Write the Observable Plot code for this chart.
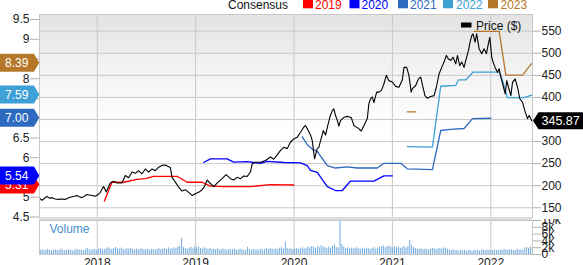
<!DOCTYPE html>
<html><head><meta charset="utf-8">
<script src="https://cdn.jsdelivr.net/npm/d3@7"></script>
<script src="https://cdn.jsdelivr.net/npm/@observablehq/plot@0.6"></script>
<style>
html,body{margin:0;padding:0;background:#fff;}
#chart{position:relative;width:583px;height:265px;overflow:hidden;font-family:"Liberation Sans",Arial,sans-serif;}
#chart svg{display:block;position:absolute;left:0;}
#bg{position:absolute;left:39px;top:14px;width:493px;height:203px;background:linear-gradient(#e3e3e3 0%,#f4f4f4 30%,#ffffff 58%,#ffffff 100%);}
#sep{position:absolute;left:39px;top:217px;width:493px;height:3px;background:#dcdcdc;z-index:5;}
</style></head><body><div id="chart"><div id="bg"></div></div>
<script>
// ---------- data ----------
const years = [2018, 2019, 2020, 2021, 2022];
const epsTicks = [4.5, 5, 5.5, 6, 6.5, 7, 7.5, 8, 8.5, 9, 9.5];
const priceTicks = [150, 200, 250, 300, 350, 400, 450, 500, 550];
const volTicks = [0, 2, 4, 6, 8, 10];
const seriesNames = ["2019", "2020", "2021", "2022", "2023"];
const latestEPS = [5.31, 5.54, 7.00, 7.59, 8.39];
const lastPrice = 345.87;

// price ($), [decimal year, price]
const price = [
[2017.413,172],[2017.437,167],[2017.461,171],[2017.488,176],[2017.511,172],[2017.539,173],[2017.573,170],[2017.603,169],[2017.644,170],[2017.674,169],
[2017.705,172],[2017.725,174],[2017.766,176],[2017.793,178],[2017.817,175],[2017.844,173],[2017.868,176],[2017.895,180],[2017.919,179],[2017.946,178],
[2017.980,176],[2018.010,180],[2018.031,185],[2018.064,198],[2018.092,186],[2018.132,206],[2018.166,210],[2018.200,206],[2018.251,206],[2018.285,223],
[2018.319,218],[2018.353,231],[2018.387,228],[2018.420,234],[2018.455,227],[2018.489,238],[2018.522,231],[2018.557,238],[2018.590,234],[2018.624,242],
[2018.659,246],[2018.692,247],[2018.716,244],[2018.743,241],[2018.760,219],[2018.794,208],[2018.827,197],[2018.862,188],[2018.896,191],[2018.929,185],
[2018.964,178],[2018.997,182],[2019.031,185],[2019.066,191],[2019.089,198],[2019.117,213],[2019.150,205],[2019.184,198],[2019.218,206],[2019.269,216],
[2019.310,225],[2019.354,216],[2019.387,213],[2019.422,219],[2019.455,216],[2019.489,222],[2019.524,221],[2019.557,231],[2019.575,250],[2019.608,253],
[2019.659,253],[2019.710,257],[2019.761,265],[2019.794,260],[2019.829,270],[2019.863,280],[2019.896,287],[2019.931,284],[2019.964,299],[2019.998,306],
[2020.033,310],[2020.066,321],[2020.100,333],[2020.117,336],[2020.140,327],[2020.168,315],[2020.185,302],[2020.209,261],[2020.236,284],[2020.252,287],
[2020.277,308],[2020.297,325],[2020.321,315],[2020.344,337],[2020.364,355],[2020.389,370],[2020.405,374],[2020.422,359],[2020.440,348],[2020.456,335],
[2020.473,348],[2020.507,355],[2020.548,357],[2020.582,354],[2020.609,336],[2020.649,331],[2020.684,324],[2020.718,340],[2020.745,352],[2020.761,386],
[2020.779,397],[2020.796,401],[2020.812,388],[2020.840,412],[2020.863,412],[2020.888,416],[2020.914,431],[2020.938,450],[2020.965,438],[2020.999,435],
[2021.033,425],[2021.067,423],[2021.101,440],[2021.118,468],[2021.145,468],[2021.168,450],[2021.191,412],[2021.203,420],[2021.237,427],[2021.264,442],
[2021.288,446],[2021.311,423],[2021.331,404],[2021.356,398],[2021.389,402],[2021.423,404],[2021.447,423],[2021.474,453],[2021.501,468],[2021.525,480],
[2021.549,495],[2021.569,487],[2021.593,484],[2021.616,491],[2021.644,476],[2021.661,495],[2021.684,472],[2021.705,480],[2021.728,468],[2021.746,484],
[2021.773,506],[2021.789,525],[2021.807,540],[2021.820,544],[2021.840,525],[2021.857,544],[2021.881,510],[2021.908,499],[2021.932,510],[2021.956,499],
[2021.972,518],[2021.990,536],[2022.010,491],[2022.023,480],[2022.044,468],[2022.068,457],[2022.085,465],[2022.102,446],[2022.125,427],[2022.146,408],
[2022.163,438],[2022.180,423],[2022.204,404],[2022.221,434],[2022.247,442],[2022.272,423],[2022.295,397],[2022.323,389],[2022.346,370],[2022.373,352],
[2022.390,359],[2022.414,348],[2022.424,345.87]
];

// consensus EPS estimates, [decimal year, EPS]
const eps2019 = [[2018.071,4.90],[2018.150,5.38],[2018.268,5.38],[2018.404,5.45],[2018.489,5.47],[2018.573,5.53],[2018.811,5.53],[2018.913,5.38],[2019.066,5.38],[2019.150,5.28],[2019.285,5.27],[2019.557,5.27],[2019.761,5.32],[2019.998,5.31]];
const eps2020 = [[2019.082,5.88],[2019.150,5.97],[2019.320,5.97],[2019.387,5.89],[2019.524,5.90],[2019.659,5.86],[2019.727,5.91],[2019.896,5.88],[2020.066,5.87],[2020.134,5.80],[2020.168,5.68],[2020.236,5.63],[2020.338,5.27],[2020.422,5.17],[2020.490,5.17],[2020.575,5.41],[2020.812,5.41],[2020.914,5.54],[2020.999,5.54]];
const eps2021 = [[2020.083,6.53],[2020.134,6.33],[2020.185,6.22],[2020.236,6.16],[2020.338,5.80],[2020.422,5.74],[2020.541,5.77],[2020.643,5.74],[2020.847,5.74],[2020.914,5.86],[2021.084,5.86],[2021.152,5.72],[2021.407,5.70],[2021.491,6.69],[2021.593,6.72],[2021.728,6.74],[2021.814,6.99],[2022.000,7.00]];
const eps2022 = [[2021.152,6.28],[2021.407,6.27],[2021.491,7.81],[2021.644,7.83],[2021.671,7.97],[2021.746,7.97],[2021.820,8.17],[2022.085,8.17],[2022.119,7.96],[2022.170,7.52],[2022.339,7.52],[2022.424,7.59]];
const eps2023 = [[2021.152,7.16],[2021.237,7.16],[2021.240,null],[2021.830,9.20],[2022.085,9.20],[2022.153,8.09],[2022.323,8.09],[2022.417,8.39],[2022.424,8.39]];

// weekly volume (thousands), first week at volStart
const volStart = 2017.42;
const volume = [
1.2,1.4,1.1,1.3,1.5,1.2,1.0,1.3,1.4,1.1,1.2,1.6,1.3,1.1,1.2,1.4,1.3,1.0,1.2,1.5,1.4,1.2,1.3,1.1,1.6,1.8,1.3,1.2,1.5,1.4,1.2,
1.6,1.8,1.4,1.5,1.7,2.0,1.6,1.5,1.8,2.1,1.7,1.6,1.9,1.5,1.4,1.7,1.6,1.8,1.5,1.3,1.6,1.4,1.5,1.7,1.3,1.4,1.6,1.2,1.5,1.4,
1.3,1.5,1.7,1.4,1.6,1.8,1.5,1.9,1.6,1.7,2.0,1.8,2.2,2.4,4.7,2.0,1.8,1.6,1.9,2.1,1.7,2.3,1.9,2.2,1.8,1.6,2.0,1.7,1.5,1.8,
1.5,1.6,1.4,1.7,1.3,1.5,1.6,1.4,1.2,1.5,1.3,1.4,1.6,1.2,1.3,1.5,1.4,1.1,1.3,2.1,1.4,1.2,1.5,1.3,1.4,1.2,1.6,1.3,1.5,1.7,
1.5,1.8,1.6,1.4,1.7,1.5,1.9,2.0,1.6,3.6,1.8,1.5,1.7,1.4,1.6,1.8,1.5,1.7,2.0,1.6,1.8,2.2,1.9,2.4,2.1,1.8,2.3,2.0,2.6,2.2,
2.0,1.8,2.2,1.9,2.4,2.9,2.1,1.9,9.8,2.9,2.2,1.8,2.0,1.7,1.9,1.6,1.8,2.0,1.7,1.5,1.8,1.6,1.9,1.7,1.5,1.8,2.0,1.6,1.9,2.1,
2.2,2.5,2.0,2.3,2.6,2.1,1.9,2.4,2.0,2.2,1.8,2.1,2.3,1.9,2.4,4.1,2.6,2.0,1.8,1.6,1.5,1.7,1.4,1.6,1.5,1.3,1.6,1.8,1.7,1.5,
1.7,1.8,1.6,1.9,1.8,1.5,1.3,1.2,1.4,1.1,1.2,1.0,1.3,1.1,1.2,1.0,1.1,1.3,1.0,1.2,1.1,1.3,1.0,1.2,1.4,1.1,1.3,1.2,1.0,1.2,
1.3,1.1,1.2,1.4,1.2,1.5,1.3,1.2,1.4,1.3,1.1,1.2,1.5,1.3,1.4,1.2,1.9,2.1,1.8,2.2,2.0
];

// ---------- styles / layout ----------
const colors = ["#ff0000", "#0000ff", "#2e6bc0", "#3da0d6", "#b5782b"];
const W = 583;
const xDomain = [2017.413, 2022.424];
const font = '"Liberation Sans", Arial, sans-serif';
const grid = "#c8c8c8";
// price axis (right) expressed in EPS units of the shared y scale
const toE = p => 4.733 + (p - 150) * 0.011178;
const fromE = e => (e - 4.733) / 0.011178 + 150;

const epsSeries = [eps2019, eps2020, eps2021, eps2022, eps2023];
const volData = volume.map((v, i) => ({t: volStart + i * 7 / 365.25, v}));

const baseStyle = {fontSize: "12px", fontFamily: font, background: "transparent", color: "#222"};

const topPlot = Plot.plot({
  width: W, height: 217,
  marginTop: 14, marginBottom: 0, marginLeft: 39, marginRight: 51,
  style: baseStyle,
  x: {type: "linear", domain: xDomain, axis: null, label: null},
  y: {type: "linear", domain: [4.4873, 9.6266], label: null},
  marks: [
    Plot.gridX({ticks: years, stroke: grid, strokeOpacity: 1}),
    Plot.gridY({ticks: priceTicks.map(toE), stroke: grid, strokeOpacity: 1}),
    ...epsSeries.map((s, i) => Plot.line(s, {x: d => d[0], y: d => d[1], stroke: colors[i], strokeWidth: 1.3})),
    Plot.line(price, {x: d => d[0], y: d => toE(d[1]), stroke: "#000", strokeWidth: 1.1}),
    Plot.frame({stroke: grid}),
    Plot.axisY({anchor: "left", ticks: epsTicks, tickFormat: d => String(d), tickSize: 9, tickPadding: 1, stroke: "#b0b0b0", fill: "#222", label: null}),
    Plot.axisY({anchor: "right", ticks: priceTicks.map(toE), tickFormat: d => String(Math.round(fromE(d))), tickSize: 8, tickPadding: 1, stroke: "#b0b0b0", fill: "#222", label: null})
  ]
});
topPlot.style.top = "0px";

const botPlot = Plot.plot({
  width: W, height: 46,
  marginTop: 1, marginBottom: 11, marginLeft: 39, marginRight: 51,
  style: baseStyle,
  x: {type: "linear", domain: xDomain, label: null},
  y: {type: "linear", domain: [0, 10], label: null},
  marks: [
    Plot.gridX({ticks: years, stroke: grid, strokeOpacity: 1}),
    Plot.ruleX(volData, {x: "t", y1: 0, y2: "v", stroke: "#72aade", strokeWidth: 1}),
    Plot.frame({stroke: grid}),
    Plot.text(["Volume"], {text: d => d, frameAnchor: "top-left", dx: 10, dy: 4, lineAnchor: "top", textAnchor: "start", fill: "#3f8dd2", fontSize: 12}),
    Plot.axisX({ticks: years, tickFormat: d => String(d), tickSize: 0, tickPadding: 4, fill: "#222", label: null}),
    Plot.axisY({anchor: "right", ticks: volTicks, tickFormat: d => d === 0 ? "0" : d + "k", tickSize: 8, tickPadding: 1, stroke: "#b0b0b0", fill: "#222", label: null})
  ]
});
botPlot.style.top = "219px";

const chart = document.getElementById("chart");
chart.appendChild(topPlot);
chart.appendChild(botPlot);
const sep = document.createElement("div"); sep.id = "sep"; chart.appendChild(sep);

// ---------- legend + badges ----------
const svg = d3.select(topPlot).style("overflow", "visible");
const yS = topPlot.scale("y");
const g = svg.append("g").attr("font-family", font).attr("font-size", 12).attr("text-anchor", "start");

// top legend
g.append("text").attr("x", 228).attr("y", 9).attr("fill", "#111").text("Consensus");
const sqX = [303, 349.5, 398, 443, 488];
const txX = [315, 361.5, 410, 456, 500.5];
seriesNames.forEach((n, i) => {
  g.append("rect").attr("x", sqX[i]).attr("y", -1).attr("width", 10).attr("height", 9.3).attr("fill", colors[i]);
  g.append("text").attr("x", txX[i]).attr("y", 9).attr("fill", colors[i]).text(n);
});

// price legend
g.append("rect").attr("x", 461).attr("y", 22.5).attr("width", 10.5).attr("height", 5).attr("fill", "#000");
g.append("text").attr("x", 476).attr("y", 29.5).attr("fill", "#111").text("Price ($)");

// left badges (latest consensus)
latestEPS.forEach((v, i) => {
  const yc = yS.apply(v);
  g.append("path").attr("d", `M0,${yc - 9}H34L39.3,${yc}L34,${yc + 9}H0Z`).attr("fill", colors[i]);
  g.append("text").attr("x", 5).attr("y", yc).attr("dy", "0.36em").attr("fill", "#fff").text(v.toFixed(2));
});

// right badge (last price)
{
  const yc = yS.apply(toE(lastPrice));
  g.append("path").attr("d", `M533,${yc}L538.5,${yc - 8.5}H590V${yc + 8.5}H538.5Z`).attr("fill", "#000");
  g.append("text").attr("x", 541.5).attr("y", yc).attr("dy", "0.36em").attr("font-size", 12.5).attr("fill", "#fff").text(lastPrice.toFixed(2));
}
</script></body></html>
